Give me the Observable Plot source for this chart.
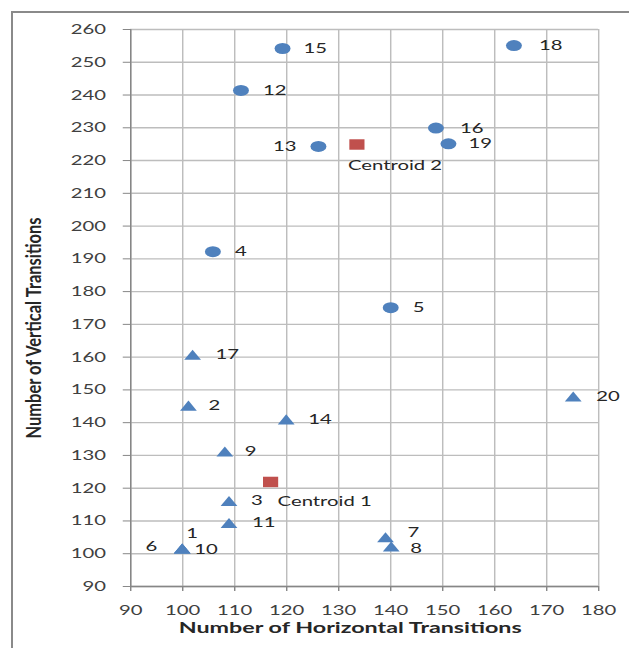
<!DOCTYPE html>
<html>
<head>
<meta charset="utf-8">
<script src="https://cdn.jsdelivr.net/npm/d3@7"></script>
<script src="https://cdn.jsdelivr.net/npm/@observablehq/plot@0.6"></script>
<style>
  html, body { margin: 0; padding: 0; background: #fff; overflow: hidden; }
  #wrap { position: relative; width: 629px; height: 648px; }
  #frame { position: absolute; left: 11px; top: 11px; width: 700px; height: 700px;
           border-left: 2px solid #8a8a8a; border-top: 2px solid #8a8a8a; box-sizing: border-box; }
  #chart { position: absolute; left: 0; top: 0; }
</style>
</head>
<body>
<div id="wrap"><div id="frame"></div><div id="chart"></div></div>
<script>
// ---- data ----
const pointIds   = [1, 2, 3, 4, 5, 6, 7, 8, 9, 10, 11, 12, 13, 14, 15, 16, 17, 18, 19, 20];
const horizontal = [99.9, 101.1, 108.9, 105.8, 140, 99.9, 139, 140.1, 108.1, 99.9, 108.9, 111.2, 126.1, 119.9, 119.2, 148.7, 101.9, 163.7, 151.1, 175.1];
const vertical   = [101.6, 145.2, 116.1, 192.2, 175.1, 101.6, 105, 102.2, 131.2, 101.6, 109.4, 241.4, 224.3, 141, 254.2, 229.9, 160.7, 255.1, 225.1, 148];
const cluster    = [1, 1, 1, 2, 2, 1, 1, 1, 1, 1, 1, 2, 2, 1, 2, 2, 1, 2, 2, 1];
const centroidNames = ["Centroid 1", "Centroid 2"];
const centroidH  = [116.9, 133.5];
const centroidV  = [121.9, 224.9];
const xTicks = [90, 100, 110, 120, 130, 140, 150, 160, 170, 180];
const yTicks = [90, 100, 110, 120, 130, 140, 150, 160, 170, 180, 190, 200, 210, 220, 230, 240, 250, 260];
const xTitle = "Number of Horizontal Transitions";
const yTitle = "Number of Vertical Transitions";

// ---- label placement (styling, screen px) ----
const labelPlacement = {
  "1": ["start", 4, -15], "2": ["start", 20, 0], "3": ["start", 22, 0], "4": ["start", 22, 0],
  "5": ["start", 22, 0], "6": ["end", -25, -2], "7": ["start", 22, -5], "8": ["start", 19, 2],
  "9": ["start", 20, 0], "10": ["start", 12, 1], "11": ["start", 23, 0], "12": ["start", 22, 0],
  "13": ["end", -22, 0], "14": ["start", 22, 0], "15": ["start", 21, 0], "16": ["start", 24, 0],
  "17": ["start", 23, 0], "18": ["start", 25, 0], "19": ["start", 20, 0], "20": ["start", 23, 0],
  "Centroid 1": ["start", 7, 20], "Centroid 2": ["start", -9, 21]
};

const points = pointIds.map((id, i) => ({id: String(id), h: horizontal[i], v: vertical[i], c: cluster[i]}));
const centroids = centroidNames.map((n, i) => ({id: n, h: centroidH[i], v: centroidV[i]}));
const allLabels = points.concat(centroids);

const SX = 1.45; // horizontal stretch of the original picture
const W = 629 / SX;
const BLUE = "#4f81bd", RED = "#c0504d";
const font = "Lato, 'Open Sans', sans-serif";

const labelMarks = ["start", "end"].flatMap(anchor =>
  allLabels.filter(d => labelPlacement[d.id][0] === anchor).map(d =>
    Plot.text([d], {x: "h", y: "v", text: "id", textAnchor: anchor,
      dx: labelPlacement[d.id][1] / SX, dy: labelPlacement[d.id][2],
      fill: "#262626", fontSize: 14})
  )
);

const chart = Plot.plot({
  width: W,
  height: 648,
  marginLeft: 130 / SX,
  marginRight: 31 / SX,
  marginTop: 29,
  marginBottom: 62,
  x: {domain: [90, 180]},
  y: {domain: [90, 260]},
  style: {fontFamily: font, fontSize: "14px", background: "transparent", color: "#404040"},
  marks: [
    Plot.gridX(xTicks, {stroke: "#bdbdbd", strokeOpacity: 1, strokeWidth: 1}),
    Plot.gridY(yTicks, {stroke: "#bdbdbd", strokeOpacity: 1, strokeWidth: 1.4}),
    Plot.axisX(xTicks, {label: null, tickSize: 5, tickPadding: 14, stroke: "#868686", fill: "#404040", fontSize: 14}),
    Plot.axisY(yTicks, {label: null, tickSize: 5, tickPadding: 12, stroke: "#868686", fill: "#404040", fontSize: 14}),
    Plot.ruleX([90], {stroke: "#868686", strokeWidth: 1}),
    Plot.ruleY([90], {stroke: "#868686", strokeWidth: 1.4}),
    Plot.dot(points.filter(d => d.c === 2), {x: "h", y: "v", r: 5.5, fill: BLUE, stroke: "none", symbol: "circle"}),
    Plot.dot(points.filter(d => d.c === 1), {x: "h", y: "v", r: 4.3, fill: BLUE, stroke: "none", symbol: "triangle", dy: 1.67}),
    Plot.dot(centroids, {x: "h", y: "v", r: 5.9, fill: RED, stroke: "none", symbol: "square"}),
    ...labelMarks,
    Plot.text([xTitle], {frameAnchor: "bottom", textAnchor: "middle", dx: -10, dy: 47, fontWeight: "bold", fontSize: 15, fill: "#262626"}),
    Plot.text([yTitle], {frameAnchor: "left", textAnchor: "middle", rotate: -90, dx: 33 / SX - 130 / SX, dy: 20, fontWeight: "bold", fontSize: 15, fill: "#262626"})
  ]
});

chart.style.transformOrigin = "0 0";
chart.style.transform = `scaleX(${SX})`;
chart.style.overflow = "visible";
chart.querySelectorAll("text").forEach(t => {
  if (t.textContent === xTitle) { t.setAttribute("textLength", 343 / SX); t.setAttribute("lengthAdjust", "spacingAndGlyphs"); }
  if (t.textContent === yTitle) { t.setAttribute("textLength", 221); t.setAttribute("lengthAdjust", "spacingAndGlyphs"); }
});
document.getElementById("chart").appendChild(chart);
</script>
</body>
</html>
